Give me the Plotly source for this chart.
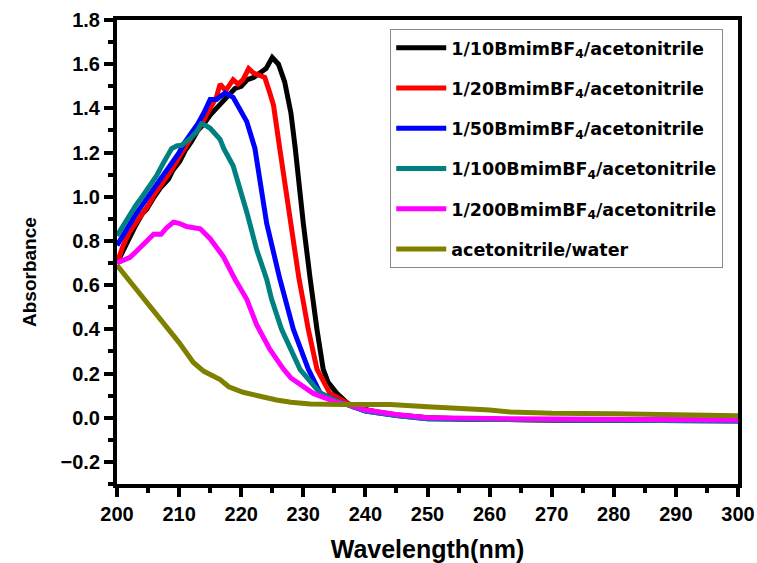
import plotly.graph_objects as go

# ---------------- data ----------------
x_10 = [200, 201, 202, 203, 204, 204.8, 206, 207, 208.3, 209, 210.1, 211, 212, 213, 214, 215, 216, 217.1, 218,
        219, 220, 221, 222, 223, 224, 225, 226, 227, 228, 228.7, 229.3, 230, 231.1, 231.5, 232.2, 233.2, 234,
        235.4, 237, 238, 240, 242, 245, 250, 255, 260, 270, 280, 290, 300]
y_10 = [0.70, 0.76, 0.82, 0.87, 0.92, 0.945, 1.00, 1.04, 1.08, 1.12, 1.16, 1.21, 1.25, 1.30, 1.33, 1.37, 1.40,
        1.43, 1.46, 1.49, 1.50, 1.53, 1.54, 1.56, 1.58, 1.63, 1.60, 1.52, 1.38, 1.22, 1.05, 0.88, 0.63, 0.54,
        0.40, 0.22, 0.16, 0.11, 0.068, 0.05, 0.035, 0.025, 0.012, 0.0, -0.005, -0.008, -0.01, -0.01, -0.012,
        -0.012]

x_20 = [200, 201, 202, 203, 204, 205, 206, 207, 208, 209, 210, 211, 212, 213, 214, 215, 216, 216.6, 217.5,
        218.7, 219.5, 220.3, 221.2, 222, 223, 223.8, 224.5, 225.2, 226.2, 227.9, 229.3, 229.9, 230.8, 232.2,
        234.3, 237, 238, 240, 242, 245, 250, 255, 260, 270, 280, 290, 300]
y_20 = [0.70, 0.78, 0.84, 0.88, 0.92, 0.96, 1.01, 1.05, 1.09, 1.13, 1.18, 1.23, 1.27, 1.30, 1.35, 1.40, 1.45,
        1.51, 1.48, 1.53, 1.51, 1.53, 1.58, 1.56, 1.55, 1.54, 1.48, 1.415, 1.22, 0.88, 0.63, 0.54, 0.40, 0.22,
        0.11, 0.068, 0.05, 0.035, 0.025, 0.012, 0.0, -0.005, -0.008, -0.01, -0.01, -0.012, -0.012]

x_50 = [200, 201, 202, 203, 204, 205, 206, 207, 208, 209, 210, 211, 212, 213, 214, 215, 216, 217.4, 218.7,
        220, 220.9, 222.2, 224.1, 226.2, 227.1, 228.4, 230.8, 232.7, 235, 237, 240, 245, 250, 260, 280, 300]
y_50 = [0.78, 0.83, 0.88, 0.92, 0.96, 1.00, 1.04, 1.08, 1.12, 1.16, 1.20, 1.25, 1.29, 1.33, 1.38, 1.44, 1.44,
        1.47, 1.45, 1.39, 1.34, 1.22, 0.88, 0.63, 0.54, 0.40, 0.22, 0.112, 0.08, 0.06, 0.03, 0.01, -0.005,
        -0.008, -0.012, -0.015]

x_100 = [200, 201, 202.1, 203, 204.2, 205.3, 206.4, 207.6, 208.8, 209.6, 210.4, 211.8, 212.8, 213.6, 214.2, 215,
         216, 216.6, 217.2, 218.7, 220.9, 222.5, 224.1, 224.9, 226.5, 229.5, 232.7, 235, 237, 240, 245, 250,
         260, 280, 300]
y_100 = [0.824, 0.87, 0.915, 0.96, 1.006, 1.05, 1.097, 1.16, 1.218, 1.23, 1.233, 1.264, 1.294, 1.33, 1.324,
         1.31, 1.28, 1.26, 1.218, 1.14, 0.93, 0.76, 0.627, 0.536, 0.40, 0.218, 0.112, 0.08, 0.06, 0.03, 0.01,
         -0.005, -0.008, -0.012, -0.015]

x_200 = [200, 201, 202.1, 203, 204.2, 205, 205.9, 207.1, 208, 209.1, 210, 211.2, 212.8, 213.4, 215, 217.1,
         219.0, 220.9, 222.5, 224.6, 226.8, 228, 231.6, 235.4, 237, 240, 245, 250, 260, 280, 300]
y_200 = [0.70, 0.71, 0.726, 0.75, 0.78, 0.80, 0.83, 0.83, 0.86, 0.885, 0.88, 0.865, 0.86, 0.855, 0.81, 0.73,
         0.627, 0.536, 0.42, 0.31, 0.22, 0.18, 0.11, 0.07, 0.06, 0.035, 0.015, 0.0, -0.004, -0.008, -0.01]

x_water = [200, 202, 204.2, 206, 208.5, 210, 212.3, 214, 216.6, 218, 220.3, 223, 225.7, 228, 231.1, 236.4,
           240, 244, 250, 255, 260, 263.3, 270, 280, 290, 300]
y_water = [0.69, 0.62, 0.55, 0.48, 0.40, 0.34, 0.25, 0.21, 0.173, 0.14, 0.115, 0.097, 0.08, 0.07, 0.062, 0.06,
           0.06, 0.06, 0.05, 0.045, 0.035, 0.026, 0.02, 0.018, 0.014, 0.009]

names = ["1/10BmimBF<sub>4</sub>/acetonitrile", "1/20BmimBF<sub>4</sub>/acetonitrile",
         "1/50BmimBF<sub>4</sub>/acetonitrile", "1/100BmimBF<sub>4</sub>/acetonitrile",
         "1/200BmimBF<sub>4</sub>/acetonitrile", "acetonitrile/water"]
colors = ["#000000", "#FF0000", "#0000FF", "#008080", "#FF00FF", "#808000"]
xs = [x_10, x_20, x_50, x_100, x_200, x_water]
ys = [y_10, y_20, y_50, y_100, y_200, y_water]

# ---------------- figure ----------------
fig = go.Figure()
for i in range(len(names)):
    fig.add_trace(go.Scatter(x=xs[i], y=ys[i], mode="lines", name=names[i],
                             line=dict(color=colors[i], width=5),
                             legendgroup="g%d" % i))

tick_font = dict(family="Liberation Sans, Arial", size=20, color="black", weight="bold")
fig.update_layout(
    width=757, height=563,
    margin=dict(l=117, r=19, t=20, b=79),
    plot_bgcolor="white", paper_bgcolor="white",
    showlegend=True,
    legend=dict(x=0.44, y=0.981, xanchor="left", yanchor="top",
                bgcolor="white", bordercolor="#888888", borderwidth=1,
                font=dict(family="DejaVu Sans", size=17.5, color="black", weight="bold"),
                tracegroupgap=14.5, itemwidth=50, traceorder="grouped"),
    xaxis=dict(range=[200, 300], tickvals=list(range(200, 301, 10)), automargin=False,
               showline=True, linecolor="black", linewidth=4, mirror=True,
               ticks="outside", ticklen=9, tickwidth=4, tickcolor="black",
               minor=dict(ticks="outside", ticklen=5, tickwidth=4, tickcolor="black", dtick=5),
               showgrid=False, zeroline=False,
               tickfont=tick_font,
               title=dict(text="Wavelength(nm)", font=dict(family="Liberation Sans, Arial", size=25,
                                                             color="black", weight="bold"), standoff=20)),
    yaxis=dict(range=[-0.3, 1.8], tickvals=[-0.2, 0.0, 0.2, 0.4, 0.6, 0.8, 1.0, 1.2, 1.4, 1.6, 1.8],
               tickformat=".1f", automargin=False,
               showline=True, linecolor="black", linewidth=4, mirror=True,
               ticks="outside", ticklen=9, tickwidth=4, tickcolor="black",
               minor=dict(ticks="outside", ticklen=5, tickwidth=4, tickcolor="black", dtick=0.1, tick0=0),
               showgrid=False, zeroline=False,
               tickfont=tick_font),
    annotations=[dict(text="Absorbance", xref="paper", yref="paper", x=-0.14, y=0.457,
                      xanchor="center", yanchor="middle", textangle=-90, showarrow=False,
                      font=dict(family="Liberation Sans, Arial", size=19, color="black", weight="bold"))],
)

fig.write_html("out.html")
